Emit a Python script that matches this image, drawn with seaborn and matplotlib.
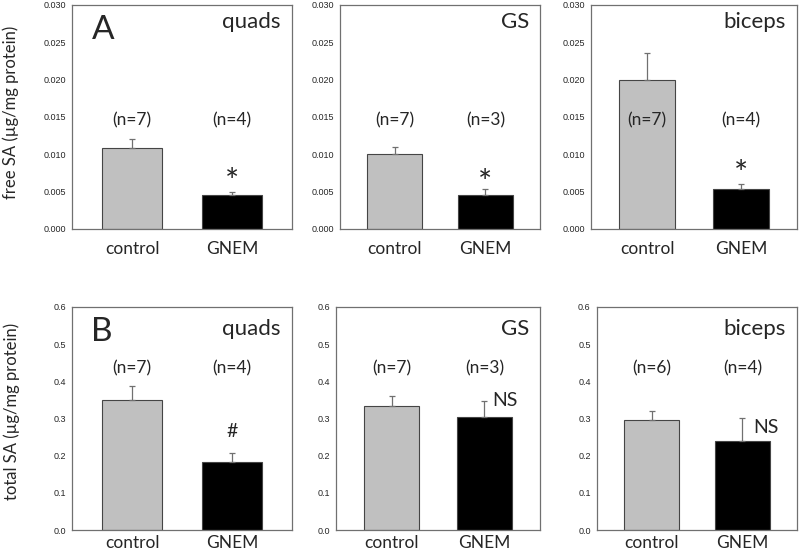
import matplotlib
matplotlib.use("Agg")
import matplotlib.pyplot as plt
import seaborn as sns
import pandas as pd
import numpy as np

sns.set_style("white")
plt.rcParams['font.family'] = ['Lato', 'DejaVu Sans']

groups = ["control", "GNEM"]
muscles = ["quads", "GS", "biceps"]

# free SA (µg/mg protein)
free_mean = {"quads": [0.0109, 0.0045], "GS": [0.0101, 0.0045], "biceps": [0.0200, 0.0053]}
free_err = {"quads": [0.0012, 0.0005], "GS": [0.0009, 0.0008], "biceps": [0.0036, 0.0007]}
free_n = {"quads": ["(n=7)", "(n=4)"], "GS": ["(n=7)", "(n=3)"], "biceps": ["(n=7)", "(n=4)"]}
free_sig = {"quads": "*", "GS": "*", "biceps": "*"}

# total SA (µg/mg protein)
total_mean = {"quads": [0.350, 0.183], "GS": [0.333, 0.305], "biceps": [0.296, 0.240]}
total_err = {"quads": [0.037, 0.025], "GS": [0.027, 0.043], "biceps": [0.024, 0.062]}
total_n = {"quads": ["(n=7)", "(n=4)"], "GS": ["(n=7)", "(n=3)"], "biceps": ["(n=6)", "(n=4)"]}
total_sig = {"quads": "#", "GS": "NS", "biceps": "NS"}

free_ticks = [0.000, 0.005, 0.010, 0.015, 0.020, 0.025, 0.030]
total_ticks = [0.0, 0.1, 0.2, 0.3, 0.4, 0.5, 0.6]

W, H = 800, 556
fig = plt.figure(figsize=(8, 5.56), dpi=100)

top_boxes = [(72, 292), (340, 540), (591, 797)]
bot_boxes = [(72, 292), (336, 540), (597, 797)]
top_y = (5, 229)
bot_y = (307, 530)

bar_colors = ["#c0c0c0", "#000000"]
tick_font = ['Liberation Sans Narrow', 'Liberation Sans', 'DejaVu Sans']


def make_ax(box, ybox):
    l, r = box
    t, b = ybox
    return fig.add_axes([l / W, 1 - b / H, (r - l) / W, (b - t) / H])


def draw_panel(ax, muscle, means, errs, ns, sig, ticks, fmt, n_y, sig_spec,
               title_drop, xpad, letter=None):
    df = pd.DataFrame({"group": groups, "value": means})
    sns.barplot(data=df, x="group", y="value", hue="group", palette=bar_colors,
                width=0.6, edgecolor="#454545", linewidth=0.8, legend=False, ax=ax,
                errorbar=None)
    ax.errorbar([0, 1], means, yerr=[np.zeros(2), errs], fmt="none",
                ecolor="#707070", elinewidth=0.9, capsize=2, capthick=0.9)
    ax.set_xlim(-0.6, 1.6)
    ax.set_ylim(ticks[0], ticks[-1])
    ax.set_yticks(ticks)
    ax.set_yticklabels([fmt.format(t) for t in ticks], family=tick_font, fontsize=6.5)
    ax.set_xticks([0, 1])
    ax.set_xticklabels(groups, fontsize=12.5)
    ax.set_xlabel("")
    ax.set_ylabel("")
    ax.tick_params(axis="y", direction="out", length=2.5, width=0.6, color="#606060", pad=2)
    ax.tick_params(axis="x", direction="out", length=2.5, width=0.6, color="#606060", pad=xpad)
    for s in ax.spines.values():
        s.set_visible(True)
        s.set_color("#707070")
        s.set_linewidth(0.9)
    ax.annotate(muscle, xy=(1, 1), xycoords="axes fraction", xytext=(-8, -title_drop),
                textcoords="offset points", ha="right", va="center", fontsize=16)
    for i, t in enumerate(ns):
        ax.text(i, n_y, t, ha="center", va="center", fontsize=12.5)
    sx, sy, sfs, ha, dy = sig_spec
    ax.annotate(sig, xy=(sx, sy), xytext=(0, dy), textcoords="offset points",
                ha=ha, va="center", fontsize=sfs)
    if letter:
        ax.annotate(letter, xy=(0, 1), xycoords="axes fraction", xytext=(14, -7),
                    textcoords="offset points", ha="left", va="top", fontsize=24)


for k, m in enumerate(muscles):
    ax = make_ax(top_boxes[k], top_y)
    sig_y = {"quads": 0.0075, "GS": 0.0073, "biceps": 0.0086}[m]
    draw_panel(ax, m, free_mean[m], free_err[m], free_n[m], free_sig[m],
               free_ticks, "{:.3f}", 0.0146, (1, sig_y, 24, "center", -7),
               title_drop=12, xpad=6, letter="A" if k == 0 else None)
    if k == 0:
        ax.set_ylabel("free SA (µg/mg protein)", fontsize=12)
        ax.yaxis.set_label_coords(-0.24, 0.52)

for k, m in enumerate(muscles):
    ax = make_ax(bot_boxes[k], bot_y)
    if m == "quads":
        sp = (1, 0.264, 14, "center", 0)
    elif m == "GS":
        sp = (1.09, 0.348, 14, "left", 0)
    else:
        sp = (1.12, 0.277, 14, "left", 0)
    draw_panel(ax, m, total_mean[m], total_err[m], total_n[m], total_sig[m],
               total_ticks, "{:.1f}", 0.434, sp,
               title_drop=16, xpad=1, letter="B" if k == 0 else None)
    if k == 0:
        ax.set_ylabel("total SA (µg/mg protein)", fontsize=12)
        ax.yaxis.set_label_coords(-0.236, 0.53)

fig.savefig("out.png", dpi=100)
